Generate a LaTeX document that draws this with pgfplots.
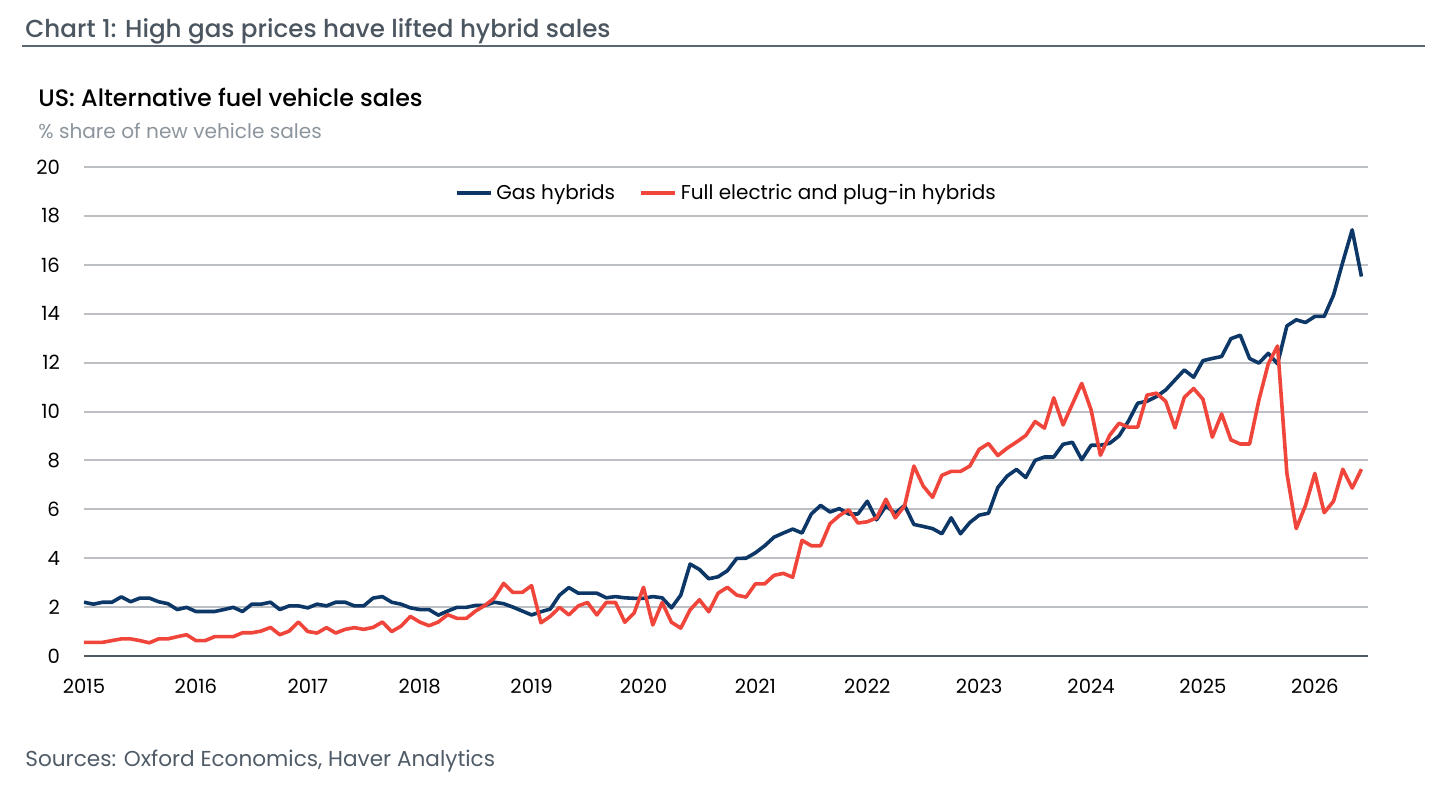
\documentclass[border=0pt]{standalone}
\usepackage{fontspec}
\setmainfont{Poppins}
\newfontfamily\pmed{Poppins Medium}
\usepackage{pgfplots}
\usepackage{pgfplotstable}
\pgfplotsset{compat=1.18}
\definecolor{navy}{HTML}{0C3767}
\definecolor{redl}{HTML}{F0453A}
\definecolor{titlec}{HTML}{4B5660}
\definecolor{rulec}{HTML}{5B6770}
\definecolor{subc}{HTML}{8C959D}
\definecolor{srcc}{HTML}{4F5B66}
\definecolor{gridc}{HTML}{BCC0C5}
\definecolor{zeroc}{HTML}{4F5A62}

\pgfplotstableread{
k gas ev
0 2.20 0.56
1 2.12 0.56
2 2.20 0.56
3 2.20 0.63
4 2.42 0.70
5 2.22 0.70
6 2.37 0.63
7 2.37 0.54
8 2.22 0.70
9 2.14 0.70
10 1.90 0.79
11 1.99 0.87
12 1.82 0.63
13 1.82 0.63
14 1.82 0.79
15 1.90 0.79
16 1.99 0.79
17 1.82 0.95
18 2.12 0.95
19 2.12 1.02
20 2.20 1.17
21 1.90 0.87
22 2.05 1.02
23 2.05 1.39
24 1.97 1.00
25 2.12 0.94
26 2.05 1.16
27 2.20 0.94
28 2.20 1.09
29 2.05 1.16
30 2.05 1.09
31 2.37 1.17
32 2.43 1.39
33 2.20 1.00
34 2.12 1.22
35 1.97 1.62
36 1.90 1.39
37 1.90 1.24
38 1.67 1.39
39 1.84 1.69
40 1.99 1.54
41 1.99 1.54
42 2.07 1.84
43 2.07 2.07
44 2.20 2.37
45 2.14 2.97
46 2.00 2.60
47 1.84 2.60
48 1.68 2.88
49 1.81 1.36
50 1.92 1.62
51 2.49 1.99
52 2.80 1.68
53 2.57 2.05
54 2.57 2.19
55 2.57 1.68
56 2.38 2.19
57 2.43 2.19
58 2.38 1.38
59 2.36 1.76
60 2.36 2.81
61 2.43 1.27
62 2.38 2.19
63 1.97 1.38
64 2.49 1.14
65 3.76 1.89
66 3.54 2.30
67 3.16 1.81
68 3.24 2.57
69 3.49 2.81
70 3.99 2.49
71 4.00 2.41
72 4.22 2.95
73 4.51 2.95
74 4.86 3.30
75 5.03 3.38
76 5.19 3.22
77 5.03 4.73
78 5.81 4.51
79 6.16 4.51
80 5.89 5.41
81 6.03 5.74
82 5.81 5.98
83 5.81 5.44
84 6.33 5.49
85 5.57 5.65
86 6.14 6.41
87 5.84 5.65
88 6.16 6.14
89 5.38 7.77
90 5.30 6.95
91 5.21 6.49
92 5.00 7.39
93 5.65 7.55
94 5.00 7.55
95 5.46 7.77
96 5.76 8.45
97 5.84 8.69
98 6.89 8.20
99 7.36 8.50
100 7.63 8.75
101 7.30 9.02
102 8.00 9.59
103 8.14 9.32
104 8.14 10.56
105 8.66 9.45
106 8.74 10.31
107 8.03 11.15
108 8.62 10.07
109 8.62 8.21
110 8.70 9.03
111 9.00 9.52
112 9.60 9.36
113 10.34 9.36
114 10.42 10.67
115 10.61 10.75
116 10.88 10.42
117 11.29 9.33
118 11.70 10.58
119 11.40 10.94
120 12.08 10.50
121 12.17 8.95
122 12.25 9.90
123 12.98 8.84
124 13.12 8.67
125 12.17 8.67
126 11.98 10.47
127 12.38 11.95
128 11.95 12.68
129 13.50 7.47
130 13.75 5.21
131 13.64 6.16
132 13.89 7.47
133 13.89 5.86
134 14.76 6.33
135 16.12 7.64
136 17.43 6.87
137 15.52 7.64
}\datatable

\begin{document}
\begin{tikzpicture}
\path[use as bounding box] (0,0) rectangle (720pt,-396.5pt);
\node[anchor=base west, inner sep=0pt, text=titlec, font=\pmed\fontsize{12.3pt}{14pt}\selectfont] at (12.5pt,-18.5pt) {Chart 1: High gas prices have lifted hybrid sales};
\draw[rulec, line width=1pt] (11pt,-23pt) -- (712.5pt,-23pt);
\node[anchor=base west, inner sep=0pt, text=black, font=\pmed\fontsize{11.9pt}{14pt}\selectfont] at (19pt,-53pt) {US: Alternative fuel vehicle sales};
\node[anchor=base west, inner sep=0pt, text=subc, font=\fontsize{10.05pt}{12pt}\selectfont] at (19pt,-69pt) {\% share of new vehicle sales};
\node[anchor=base west, inner sep=0pt, text=srcc, font=\fontsize{10.8pt}{12pt}\selectfont] at (12.5pt,-383pt) {Sources: Oxford Economics, Haver Analytics};
\begin{axis}[
  at={(42pt,-328pt)}, anchor=south west,
  width=642pt, height=244.5pt, scale only axis,
  xmin=0, xmax=137.7, ymin=0, ymax=20,
  axis line style={draw=none},
  tick style={draw=none},
  xtick={0,12,...,132},
  xticklabels={2015,2016,2017,2018,2019,2020,2021,2022,2023,2024,2025,2026},
  ytick={2,4,...,20},
  extra y ticks={0},
  extra y tick style={grid style={zeroc, line width=1.1pt}},
  ymajorgrids,
  grid style={gridc, line width=1pt},
  /pgf/number format/assume math mode=true,
  tick label style={font=\fontsize{9.8pt}{11pt}\selectfont, text=black},
  yticklabel style={anchor=east, xshift=-8.5pt},
  xticklabel style={anchor=north, yshift=-8pt},
  legend style={at={(0.501,0.947)}, anchor=center, draw=none, fill=none,
    font=\fontsize{10pt}{12pt}\selectfont, /tikz/every even column/.append style={column sep=10pt}},
  legend columns=2,
  legend image code/.code={\draw[#1] (0pt,0pt) -- (17pt,0pt);},
  legend cell align=left,
  line join=round,
]
\addplot[navy, line width=1.8pt] table[x=k, y=gas] {\datatable};
\addlegendentry[xshift=-2pt]{Gas hybrids}
\addplot[redl, line width=1.8pt] table[x=k, y=ev] {\datatable};
\addlegendentry[xshift=-2pt]{Full electric and plug-in hybrids}
\end{axis}
\end{tikzpicture}
\end{document}
